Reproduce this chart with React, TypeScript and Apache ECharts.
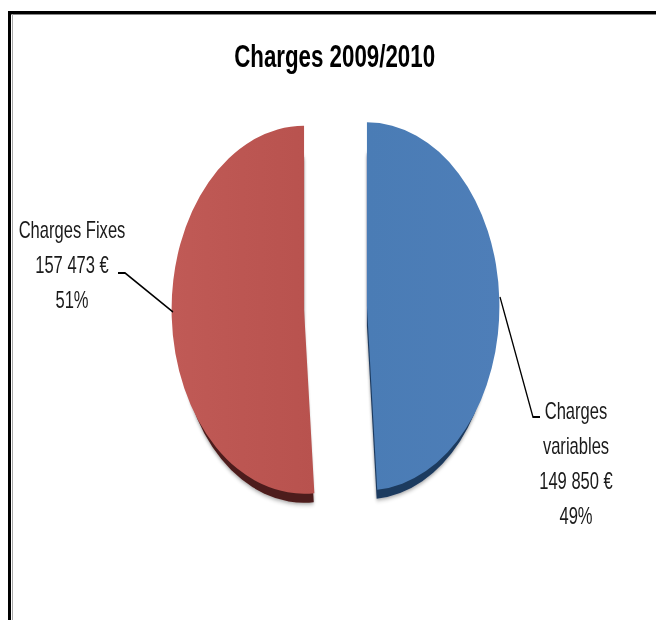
import React, { useEffect, useRef } from "react";
import * as echarts from "echarts";

const title = "Charges 2009/2010";
const categories = ["Charges variables", "Charges Fixes"];
const labelNames = ["Charges\nvariables", "Charges Fixes"];
const values = [149850, 157473];
const valueLabels = ["149 850 €", "157 473 €"];

const S = 0.72; // the whole picture is squeezed horizontally
const W = 656 / S;
const sx = (x: number) => x / S;
const FONT = "'Liberation Sans', Arial, sans-serif";

const grad = (a: string, b: string) =>
  new echarts.graphic.LinearGradient(0, 0, 1, 0, [
    { offset: 0, color: a },
    { offset: 1, color: b },
  ]);

export default function App() {
  const ref = useRef<HTMLDivElement>(null);
  useEffect(() => {
    const chart = echarts.init(ref.current!, undefined, { renderer: "svg" });
    const faces = [grad("#4A7CB5", "#4E7EB8"), grad("#C05A56", "#B8524E")];
    const depth = ["#1F3A5F", "#4E1F1D"];
    const total = values.reduce((a, b) => a + b, 0);
    const labelSpots = [
      { x: sx(576), y: 463, line: [[sx(500), 297], [sx(533), 417], [sx(540), 417]] },
      { x: sx(72), y: 265, line: [[sx(173), 312], [sx(125), 273], [sx(118), 273]] },
    ];
    const labelGraphics = values.flatMap((v, i) => [
      {
        type: "polyline",
        z: 10,
        shape: { points: labelSpots[i].line },
        style: { fill: "none", stroke: "#000", lineWidth: 1.8 },
      },
      {
        type: "text",
        z: 11,
        x: labelSpots[i].x,
        y: labelSpots[i].y,
        style: {
          text: `${labelNames[i]}\n${valueLabels[i]}\n${Math.round((v / total) * 100)}%`,
          font: `23px ${FONT}`,
          fill: "#1a1a1a",
          align: "center",
          verticalAlign: "middle",
          lineHeight: 35,
        },
      },
    ]);
    chart.setOption({
      animation: false,
      backgroundColor: "#fff",
      title: {
        text: title,
        left: sx(331),
        top: 36,
        textAlign: "center",
        textStyle: { fontFamily: FONT, fontWeight: "bold", fontSize: 31, color: "#000" },
      },
      graphic: [
        { type: "rect", shape: { x: sx(8), y: 11, width: W, height: 3 }, style: { fill: "#000" } },
        { type: "rect", shape: { x: sx(11), y: 14, width: W, height: 1 }, style: { fill: "#888" } },
        { type: "rect", shape: { x: sx(8), y: 11, width: sx(3), height: 620 }, style: { fill: "#000" } },
        { type: "rect", shape: { x: sx(12), y: 14, width: sx(1), height: 620 }, style: { fill: "#aaa" } },
        ...labelGraphics,
      ],
      series: [
        {
          type: "pie",
          silent: true,
          z: 1,
          center: [sx(335.5), 328],
          radius: 173,
          startAngle: 90,
          selectedMode: "multiple",
          selectedOffset: 43.7,
          label: { show: false },
          labelLine: { show: false },
          data: values.map((value, i) => ({
            name: categories[i],
            value,
            selected: true,
            itemStyle: { color: depth[i], shadowBlur: 5, shadowColor: "rgba(0,0,0,0.45)", shadowOffsetY: 1 },
          })),
        },
        {
          type: "pie",
          silent: true,
          z: 2,
          center: [sx(335.5), 308],
          radius: 184,
          startAngle: 90,
          selectedMode: "multiple",
          selectedOffset: 43.7,
          label: { show: false },
          labelLine: { show: false },
          data: values.map((value, i) => ({
            name: categories[i],
            value,
            selected: true,
            itemStyle: { color: faces[i] },
          })),
        },
      ],
    });
    return () => chart.dispose();
  }, []);
  return (
    <div style={{ position: "absolute", left: 0, top: 0, width: 656, height: 620, overflow: "hidden", background: "#fff" }}>
      <div
        ref={ref}
        style={{ width: W, height: 620, transform: `scaleX(${S})`, transformOrigin: "left top" }}
      />
    </div>
  );
}
